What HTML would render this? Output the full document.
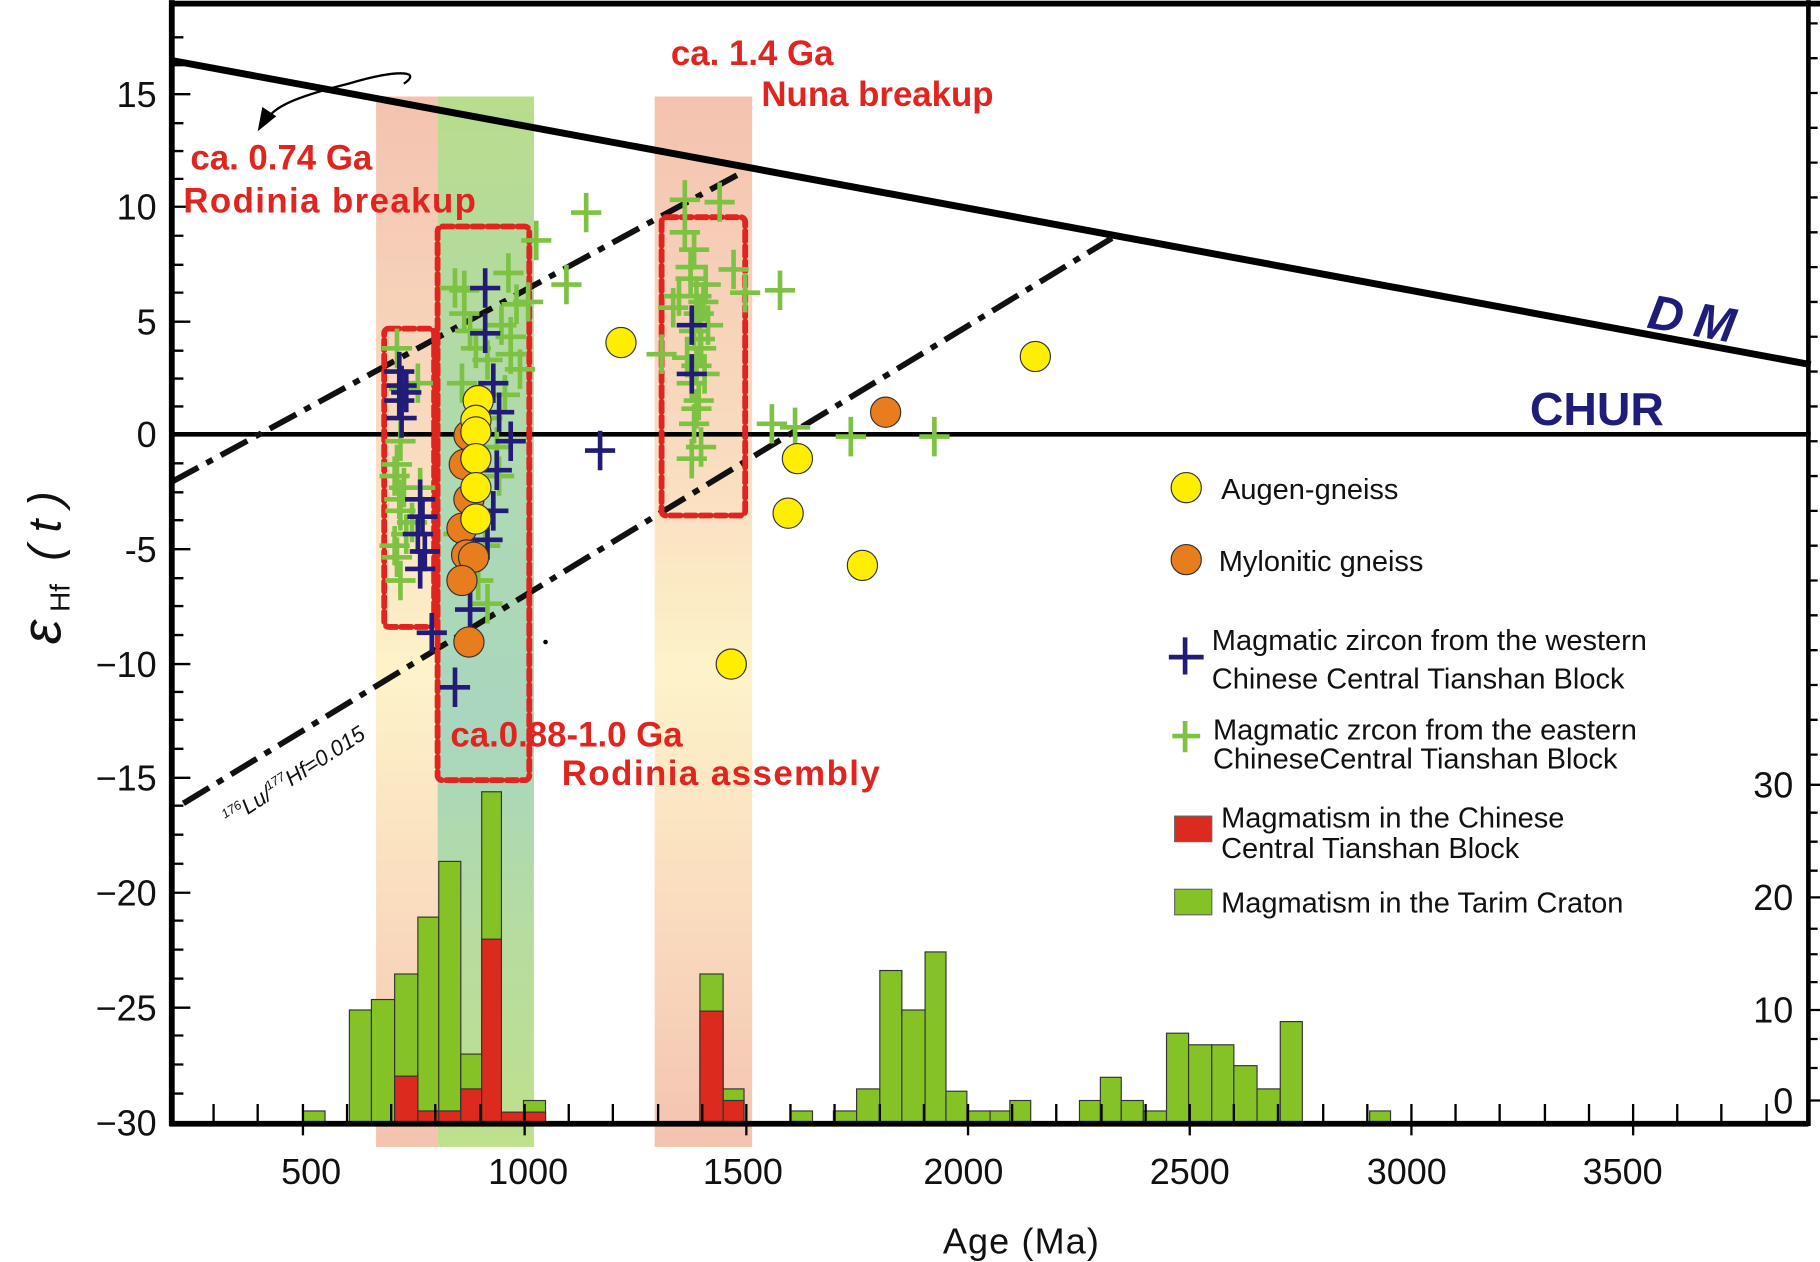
<!DOCTYPE html>
<html><head><meta charset="utf-8"><style>
html,body{margin:0;padding:0;background:#fff;}
svg{display:block;}
text{font-family:"Liberation Sans",sans-serif;}
</style></head><body>
<svg width="1820" height="1262" viewBox="0 0 1568 1087" xmlns="http://www.w3.org/2000/svg">
<defs>
<linearGradient id="gp" x1="0" y1="0" x2="0" y2="1">
<stop offset="0" stop-color="#f4c3b0"/><stop offset="0.35" stop-color="#f9ddc0"/><stop offset="0.55" stop-color="#fdf3c8"/><stop offset="0.8" stop-color="#f9d9bd"/><stop offset="1" stop-color="#f4c3b0"/></linearGradient>
<linearGradient id="gg" x1="0" y1="0" x2="0" y2="1">
<stop offset="0" stop-color="#b9dc8c"/><stop offset="0.4" stop-color="#aed9b5"/><stop offset="0.6" stop-color="#a9d6bf"/><stop offset="0.8" stop-color="#b6dca0"/><stop offset="1" stop-color="#bfe08c"/></linearGradient>
<g id="cn"><path d="M-13 0H13M0 -17V17" stroke="#221c78" stroke-width="4"/></g>
<g id="cg"><path d="M-13 0H13M0 -17V17" stroke="#7dc242" stroke-width="4"/></g>
</defs>
<rect width="1568" height="1087" fill="#fff"/>
<rect x="324" y="83" width="53" height="905" fill="url(#gp)"/>
<rect x="377" y="83" width="83" height="905" fill="url(#gg)"/>
<rect x="564" y="83" width="84" height="905" fill="url(#gp)"/>
<g stroke="#333" stroke-width="1" fill="#84c226">
<rect x="261" y="957" width="19" height="10"/>
<rect x="301" y="870" width="19" height="97"/>
<rect x="320" y="861" width="20" height="106"/>
<rect x="340" y="839" width="20" height="128"/>
<rect x="360" y="790" width="18" height="177"/>
<rect x="378" y="742" width="19" height="225"/>
<rect x="397" y="908" width="18" height="59"/>
<rect x="415" y="682" width="17" height="285"/>
<rect x="451" y="948" width="19" height="19"/>
<rect x="603" y="839" width="20" height="128"/>
<rect x="623" y="938" width="18" height="29"/>
<rect x="681" y="957" width="19" height="10"/>
<rect x="718" y="957" width="20" height="10"/>
<rect x="738" y="938" width="20" height="29"/>
<rect x="758" y="836" width="19" height="131"/>
<rect x="777" y="870" width="20" height="97"/>
<rect x="797" y="820" width="18" height="147"/>
<rect x="815" y="940" width="18" height="27"/>
<rect x="833" y="957" width="20" height="10"/>
<rect x="853" y="957" width="17" height="10"/>
<rect x="870" y="948" width="18" height="19"/>
<rect x="930" y="948" width="18" height="19"/>
<rect x="948" y="928" width="18" height="39"/>
<rect x="966" y="948" width="19" height="19"/>
<rect x="985" y="957" width="20" height="10"/>
<rect x="1005" y="890" width="19" height="77"/>
<rect x="1024" y="900" width="20" height="67"/>
<rect x="1044" y="900" width="19" height="67"/>
<rect x="1063" y="918" width="20" height="49"/>
<rect x="1083" y="938" width="20" height="29"/>
<rect x="1103" y="880" width="19" height="87"/>
<rect x="1180" y="957" width="18" height="10"/>
</g>
<g stroke="#333" stroke-width="1" fill="#dc2a1f">
<rect x="340" y="927" width="20" height="40"/>
<rect x="360" y="957" width="18" height="10"/>
<rect x="378" y="957" width="19" height="10"/>
<rect x="397" y="938" width="18" height="29"/>
<rect x="415" y="809" width="17" height="158"/>
<rect x="432" y="958" width="19" height="9"/>
<rect x="451" y="958" width="19" height="9"/>
<rect x="603" y="871" width="20" height="96"/>
<rect x="623" y="948" width="18" height="19"/>
</g>
<line x1="148" y1="52" x2="1560" y2="314" stroke="#000" stroke-width="6"/>
<line x1="148" y1="374" x2="1560" y2="374" stroke="#000" stroke-width="4"/>
<g stroke="#111" stroke-width="5" stroke-dasharray="26,8,6,8">
<line x1="148" y1="415" x2="640" y2="148"/>
<line x1="158" y1="692" x2="958" y2="205"/>
</g>
<g fill="none" stroke="#e0241f" stroke-width="5" stroke-dasharray="9,4" stroke-linecap="round">
<rect x="331" y="283" width="43" height="257" rx="4"/>
<rect x="377" y="195" width="79" height="477" rx="4"/>
<rect x="570" y="187" width="72" height="257" rx="4"/>
</g>
<g>
<use href="#cg" x="505" y="183"/><use href="#cg" x="590" y="172"/><use href="#cg" x="620" y="174"/>
<use href="#cg" x="632" y="232"/><use href="#cg" x="642" y="252"/><use href="#cg" x="672" y="250"/>
<use href="#cg" x="488" y="245"/><use href="#cg" x="462" y="207"/><use href="#cg" x="455" y="260"/>
<use href="#cg" x="733" y="376"/><use href="#cg" x="805" y="376"/><use href="#cg" x="665" y="365"/><use href="#cg" x="685" y="368"/>
<use href="#cg" x="570" y="305"/>
<use href="#cg" x="590" y="200"/><use href="#cg" x="598" y="215"/><use href="#cg" x="595" y="240"/><use href="#cg" x="600" y="255"/><use href="#cg" x="602" y="270"/><use href="#cg" x="598" y="285"/><use href="#cg" x="604" y="300"/><use href="#cg" x="600" y="315"/><use href="#cg" x="596" y="330"/><use href="#cg" x="602" y="345"/><use href="#cg" x="598" y="365"/><use href="#cg" x="604" y="385"/><use href="#cg" x="585" y="255"/><use href="#cg" x="580" y="265"/><use href="#cg" x="608" y="245"/><use href="#cg" x="610" y="280"/>
<use href="#cg" x="595" y="230"/><use href="#cg" x="603" y="292"/><use href="#cg" x="592" y="308"/><use href="#cg" x="606" y="260"/><use href="#cg" x="600" y="352"/><use href="#cg" x="596" y="395"/><use href="#cg" x="607" y="322"/>
<use href="#cg" x="342" y="300"/><use href="#cg" x="348" y="335"/><use href="#cg" x="345" y="380"/><use href="#cg" x="342" y="400"/><use href="#cg" x="348" y="420"/><use href="#cg" x="345" y="440"/><use href="#cg" x="350" y="460"/><use href="#cg" x="342" y="480"/><use href="#cg" x="345" y="500"/><use href="#cg" x="360" y="330"/><use href="#cg" x="362" y="420"/>
<use href="#cg" x="340" y="410"/><use href="#cg" x="344" y="430"/><use href="#cg" x="355" y="450"/><use href="#cg" x="340" y="470"/>
<use href="#cg" x="392" y="248"/><use href="#cg" x="400" y="250"/><use href="#cg" x="405" y="285"/><use href="#cg" x="410" y="300"/><use href="#cg" x="398" y="330"/><use href="#cg" x="438" y="235"/><use href="#cg" x="445" y="262"/><use href="#cg" x="440" y="290"/><use href="#cg" x="448" y="318"/><use href="#cg" x="435" y="340"/><use href="#cg" x="420" y="360"/><use href="#cg" x="425" y="440"/><use href="#cg" x="418" y="470"/><use href="#cg" x="412" y="500"/><use href="#cg" x="395" y="460"/><use href="#cg" x="430" y="410"/>
<use href="#cg" x="432" y="280"/><use href="#cg" x="420" y="310"/><use href="#cg" x="440" y="305"/><use href="#cg" x="428" y="385"/><use href="#cg" x="400" y="270"/><use href="#cg" x="420" y="520"/>
</g>
<g>
<use href="#cn" x="418" y="248"/><use href="#cn" x="418" y="287"/><use href="#cn" x="517" y="388"/><use href="#cn" x="596" y="280"/><use href="#cn" x="596" y="322"/>
<use href="#cn" x="405" y="525"/><use href="#cn" x="392" y="592"/><use href="#cn" x="372" y="545"/>
<use href="#cn" x="344" y="320"/><use href="#cn" x="346" y="332"/><use href="#cn" x="344" y="345"/><use href="#cn" x="346" y="360"/><use href="#cn" x="350" y="338"/>
<use href="#cn" x="362" y="430"/><use href="#cn" x="364" y="445"/><use href="#cn" x="360" y="460"/><use href="#cn" x="366" y="475"/><use href="#cn" x="362" y="490"/>
<use href="#cn" x="425" y="330"/><use href="#cn" x="430" y="355"/><use href="#cn" x="440" y="380"/><use href="#cn" x="428" y="405"/><use href="#cn" x="425" y="440"/><use href="#cn" x="420" y="465"/>
</g>
<g stroke="#333" stroke-width="1">
<circle cx="404" cy="375" r="13" fill="#e87d1e"/><circle cx="400" cy="400" r="13" fill="#e87d1e"/><circle cx="404" cy="430" r="13" fill="#e87d1e"/><circle cx="398" cy="455" r="13" fill="#e87d1e"/><circle cx="402" cy="478" r="13" fill="#e87d1e"/><circle cx="408" cy="480" r="13" fill="#e87d1e"/><circle cx="398" cy="500" r="13" fill="#e87d1e"/><circle cx="404" cy="553" r="13" fill="#e87d1e"/><circle cx="763" cy="355" r="13" fill="#e87d1e"/>
<circle cx="412" cy="345" r="13" fill="#ffee00"/><circle cx="410" cy="362" r="13" fill="#ffee00"/><circle cx="410" cy="372" r="13" fill="#ffee00"/><circle cx="410" cy="395" r="13" fill="#ffee00"/><circle cx="410" cy="420" r="13" fill="#ffee00"/><circle cx="410" cy="447" r="13" fill="#ffee00"/>
<circle cx="535" cy="295" r="13" fill="#ffee00"/><circle cx="892" cy="307" r="13" fill="#ffee00"/><circle cx="687" cy="395" r="13" fill="#ffee00"/><circle cx="679" cy="442" r="13" fill="#ffee00"/><circle cx="743" cy="487" r="13" fill="#ffee00"/><circle cx="630" cy="572" r="13" fill="#ffee00"/>
</g>
<circle cx="470" cy="553" r="2" fill="#000"/>
<g stroke="#000" fill="none">
<line x1="148" y1="0" x2="148" y2="970" stroke-width="5"/>
<line x1="146" y1="968" x2="1558" y2="968" stroke-width="5"/>
<line x1="146" y1="3" x2="1568" y2="3" stroke-width="5"/>
<line x1="1558" y1="0" x2="1558" y2="970" stroke-width="4"/>
</g>
<g stroke="#000" stroke-width="2">
<path d="M148 32h10M148 56h10M148 81h16M148 106h10M148 130h10M148 154h10M148 178h16M148 203h10M148 228h10M148 252h10M148 277h16M148 302h10M148 326h10M148 350h10M148 374h16M148 399h10M148 424h10M148 448h10M148 473h16M148 498h10M148 522h10M148 547h10M148 572h16M148 596h10M148 620h10M148 645h10M148 670h16M148 694h10M148 719h10M148 744h10M148 769h16M148 793h10M148 818h10M148 843h10M148 868h16M148 892h10M148 917h10M148 942h10"/>
<path d="M184 968v-17M222 968v-17M261 968v-17M261 968v10M299 968v-17M337 968v-17M375 968v-17M414 968v-17M452 968v-17M452 968v10M490 968v-17M528 968v-17M567 968v-17M605 968v-17M643 968v-17M643 968v10M681 968v-17M719 968v-17M758 968v-17M796 968v-17M834 968v-17M834 968v10M872 968v-17M910 968v-17M949 968v-17M987 968v-17M1025 968v-17M1025 968v10M1063 968v-17M1101 968v-17M1140 968v-17M1178 968v-17M1216 968v-17M1216 968v10M1254 968v-17M1292 968v-17M1331 968v-17M1369 968v-17M1407 968v-17M1407 968v10M1445 968v-17M1483 968v-17M1522 968v-17"/>
<path d="M1558 20h8M1558 50h8M1558 80h8M1558 110h8M1558 140h8M1558 170h8M1558 200h8M1558 230h8M1558 260h8M1558 290h8M1558 320h8M1558 350h8M1558 380h8M1558 410h8M1558 440h8M1558 470h8M1558 500h8M1558 530h8M1558 560h8M1558 590h8M1558 620h8M1558 650h8M1558 676h10M1558 700h8M1558 725h8M1558 750h8M1558 773h10M1558 800h8M1558 822h8M1558 846h8M1558 870h10M1558 895h8M1558 920h8M1558 948h10"/>
</g>
<g font-size="31" fill="#111" text-anchor="end">
<text x="135" y="92">15</text><text x="135" y="189">10</text><text x="135" y="288">5</text><text x="135" y="385">0</text><text x="135" y="484">-5</text><text x="135" y="583">−10</text><text x="135" y="681">−15</text><text x="135" y="780">−20</text><text x="135" y="879">−25</text><text x="135" y="978">−30</text>
<text x="1545" y="687">30</text><text x="1545" y="784">20</text><text x="1545" y="881">10</text><text x="1545" y="959">0</text>
</g>
<g font-size="31" fill="#111" text-anchor="middle">
<text x="268" y="1020">500</text><text x="455" y="1020">1000</text><text x="640" y="1020">1500</text><text x="830" y="1020">2000</text><text x="1025" y="1020">2500</text><text x="1212" y="1020">3000</text><text x="1398" y="1020">3500</text>
<text x="880" y="1080" letter-spacing="1">Age (Ma)</text>
</g>
<g transform="translate(52,555) rotate(-90)" fill="#111">
<text x="0" y="0" font-family="Liberation Serif" font-size="48" font-style="italic">ε</text>
<text x="28" y="8" font-family="Liberation Serif" font-size="24">Hf</text>
<text x="72" y="0" font-family="Liberation Serif" font-size="40" font-style="italic">( t )</text>
</g>
<g fill="#e0241f" font-weight="bold" font-size="30">
<text x="578" y="56">ca. 1.4 Ga</text>
<text x="656" y="91">Nuna breakup</text>
<text x="164" y="146">ca. 0.74 Ga</text>
<text x="158" y="183" textLength="252">Rodinia breakup</text>
<text x="388" y="643">ca.0.88-1.0 Ga</text>
<text x="484" y="676" textLength="274">Rodinia assembly</text>
</g>
<text x="0" y="0" transform="translate(1418,282) rotate(10)" font-size="42" font-weight="bold" font-style="italic" fill="#1f1c7a" letter-spacing="10">DM</text>
<text x="1318" y="366" font-size="40" font-weight="bold" fill="#1f1c7a">CHUR</text>
<text transform="translate(198,712) rotate(-33)" font-size="19" font-style="italic" fill="#111"><tspan font-size="11" dy="-8">176</tspan><tspan dy="8">Lu/</tspan><tspan font-size="11" dy="-8">177</tspan><tspan dy="8">Hf=0.015</tspan></text>
<path d="M348 72 C 365 60 340 60 300 72 C 260 82 240 90 232 100" fill="none" stroke="#000" stroke-width="2"/>
<path d="M222 113 L226 92 L238 100 Z" fill="#000"/>
<circle cx="1022" cy="420" r="13" fill="#ffee00" stroke="#333"/>
<circle cx="1022" cy="482" r="13" fill="#e87d1e" stroke="#333"/>
<path d="M1007 566H1037M1021 549V581" stroke="#221c78" stroke-width="4"/>
<path d="M1010 634H1034M1021 621V648" stroke="#7dc242" stroke-width="4"/>
<rect x="1012" y="703" width="32" height="22" fill="#dc2a1f" stroke="#666"/>
<rect x="1012" y="766" width="32" height="22" fill="#84c226" stroke="#666"/>
<g font-size="25" fill="#111">
<text x="1052" y="430">Augen-gneiss</text>
<text x="1050" y="492">Mylonitic gneiss</text>
<text x="1044" y="560">Magmatic zircon from the western</text>
<text x="1044" y="593">Chinese Central Tianshan Block</text>
<text x="1045" y="637">Magmatic zrcon from the eastern</text>
<text x="1045" y="662">ChineseCentral Tianshan Block</text>
<text x="1052" y="713">Magmatism in the Chinese</text>
<text x="1052" y="739">Central Tianshan Block</text>
<text x="1052" y="786">Magmatism in the Tarim Craton</text>
</g>
</svg>
</body></html>
